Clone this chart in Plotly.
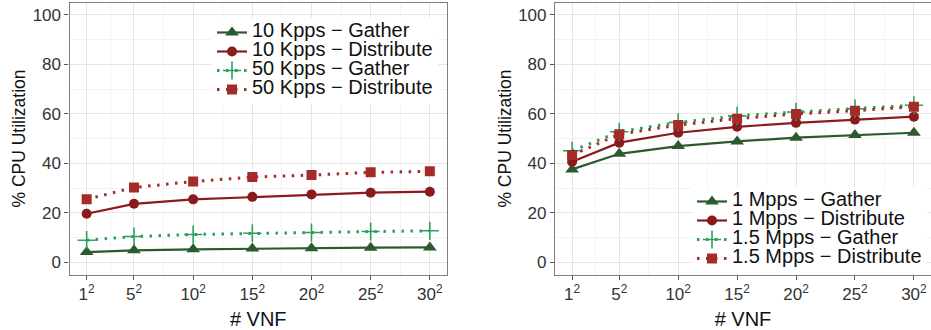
import plotly.graph_objects as go

# Number of VNFs shown as n^2; plotted on a linear axis of n
vnf_root = [1, 5, 10, 15, 20, 25, 30]
tick_text = [f"{n}<sup>2</sup>" for n in vnf_root]

# Left panel: low packet rates
kpps10_gather = [4.2, 4.9, 5.3, 5.6, 5.8, 6.0, 6.1]
kpps10_distribute = [19.7, 23.7, 25.5, 26.5, 27.5, 28.2, 28.6]
kpps50_gather = [9.0, 10.5, 11.3, 11.8, 12.1, 12.5, 12.8]
kpps50_distribute = [25.5, 30.3, 32.7, 34.5, 35.3, 36.4, 36.8]

# Right panel: high packet rates
mpps1_gather = [37.6, 43.9, 47.0, 48.9, 50.4, 51.5, 52.4]
mpps1_distribute = [40.7, 48.4, 52.4, 54.8, 56.4, 57.7, 58.9]
mpps15_gather = [45.1, 52.8, 56.6, 59.2, 60.8, 62.1, 63.5]
mpps15_distribute = [43.4, 51.8, 55.5, 58.1, 60.0, 61.3, 62.9]

y_ticks = [0, 20, 40, 60, 80, 100]

C_GATHER = "#2b5a2e"
C_DIST = "#8b1a1c"
C_GATHER_HI = "#2ca05a"
C_DIST_HI = "#a52a2a"

FONT = "Liberation Sans, Arial, sans-serif"
DOTTED = "2.5px,6.5px"

styles = [
    dict(color=C_GATHER, dash="solid", symbol="triangle-up", size=12, lw=2.2),
    dict(color=C_DIST, dash="solid", symbol="circle", size=10, lw=2.2),
    dict(color=C_GATHER_HI, dash=DOTTED, symbol="cross-thin", size=13, lw=3),
    dict(color=C_DIST_HI, dash=DOTTED, symbol="square", size=10, lw=3),
]

fig = go.Figure()


def legend_label(text):
    # larger label text while the legend row height follows the smaller legend font
    return f"<span style='font-size:20px'>{text}</span>"


def add_series(values, name, st, xa, ya, legend):
    marker = dict(symbol=st["symbol"], size=st["size"], color=st["color"])
    if st["symbol"] == "cross-thin":
        marker["line"] = dict(color=st["color"], width=1.6)
    fig.add_trace(go.Scatter(
        x=vnf_root, y=values, name=legend_label(name), mode="lines+markers",
        line=dict(color=st["color"], width=st["lw"], dash=st["dash"]),
        marker=marker, xaxis=xa, yaxis=ya, legend=legend,
    ))


left = [("10 Kpps − Gather", kpps10_gather), ("10 Kpps − Distribute", kpps10_distribute),
        ("50 Kpps − Gather", kpps50_gather), ("50 Kpps − Distribute", kpps50_distribute)]
right = [("1 Mpps − Gather", mpps1_gather), ("1 Mpps − Distribute", mpps1_distribute),
         ("1.5 Mpps − Gather", mpps15_gather), ("1.5 Mpps − Distribute", mpps15_distribute)]

for (name, vals), st in zip(left, styles):
    add_series(vals, name, st, "x", "y", "legend")
for (name, vals), st in zip(right, styles):
    add_series(vals, name, st, "x2", "y2", "legend2")

minor_x = [3, 7.5, 12.5, 17.5, 22.5, 27.5]
minor_y = [10, 30, 50, 70, 90]

common_x = dict(
    range=[-0.45, 31.45], tickmode="array", tickvals=vnf_root, ticktext=tick_text,
    showgrid=True, gridcolor="#e6e6e6", gridwidth=1,
    minor=dict(tickvals=minor_x, showgrid=True, gridcolor="#f3f3f3", gridwidth=1, ticklen=0),
    showline=True, linecolor="#7f7f7f", linewidth=1.2, mirror=True,
    ticks="outside", ticklen=4, tickcolor="#555555", tickwidth=1,
    tickfont=dict(family=FONT, size=17, color="#333333"),
    title=dict(text="# VNF", font=dict(family=FONT, size=20, color="#111111"), standoff=8),
    zeroline=False,
)
common_y = dict(
    range=[-4.85, 105], tickmode="array", tickvals=y_ticks,
    showgrid=True, gridcolor="#e6e6e6", gridwidth=1,
    minor=dict(tickvals=minor_y, showgrid=True, gridcolor="#f3f3f3", gridwidth=1, ticklen=0),
    showline=True, linecolor="#7f7f7f", linewidth=1.2, mirror=True,
    ticks="outside", ticklen=4, tickcolor="#555555", tickwidth=1,
    tickfont=dict(family=FONT, size=17, color="#333333"),
    title=dict(text="% CPU Utilization", font=dict(family=FONT, size=17.5, color="#111111"), standoff=2),
    zeroline=False,
)

legend_common = dict(
    bgcolor="white", borderwidth=0, font=dict(family=FONT, size=12.3, color="#111111"),
    xanchor="left", yanchor="top", itemwidth=30, tracegroupgap=0,
)

fig.update_layout(
    width=931, height=330,
    margin=dict(l=0, r=0, t=0, b=0),
    paper_bgcolor="white", plot_bgcolor="white",
    showlegend=True,
    xaxis=dict(domain=[69.5 / 931, 447 / 931], anchor="y", **common_x),
    yaxis=dict(domain=[1 - 274.5 / 330, 1 - 2.5 / 330], anchor="x", **common_y),
    xaxis2=dict(domain=[555 / 931, 1.0], anchor="y2", **common_x),
    yaxis2=dict(domain=[1 - 274.5 / 330, 1 - 2.5 / 330], anchor="x2", **common_y),
    legend=dict(x=212 / 931, y=1 - 18 / 330, xref="paper", yref="paper", **legend_common),
    legend2=dict(x=692 / 931, y=1 - 187 / 330, xref="paper", yref="paper", **legend_common),
)

fig.write_html("out.html")
